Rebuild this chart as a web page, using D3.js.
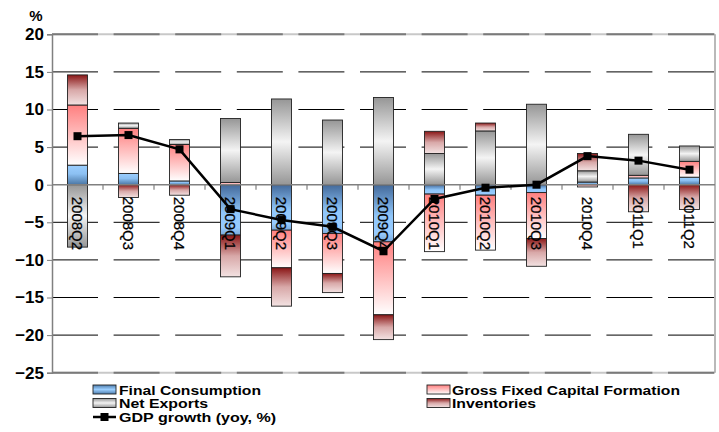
<!DOCTYPE html>
<html><head><meta charset="utf-8">
<script src="https://cdn.jsdelivr.net/npm/d3@7"></script>
<style>
html,body{margin:0;padding:0;background:#fff;}
svg{display:block;}
</style></head>
<body>
<svg id="chart" width="719" height="432"></svg>
<script>
// ---- data ----
const categories = ['2008Q2','2008Q3','2008Q4','2009Q1','2009Q2','2009Q3','2009Q4','2010Q1','2010Q2','2010Q3','2010Q4','2011Q1','2011Q2'];
const finalConsumption = [2.6, 1.5, 0.5, -6.7, -6.05, -6.5, -7.6, -1.25, -1.4, -1.05, 0.35, 0.9, 1.0];
const grossFixedCapital = [8.0, 6.0, 4.85, 0.3, -5.0, -5.3, -9.7, -7.65, -7.3, -6.1, -0.3, 0.35, 2.1];
const netExports = [-8.3, 0.7, 0.65, 8.5, 11.4, 8.6, 11.6, 4.15, 7.15, 10.7, 1.5, 5.45, 2.05];
const inventories = [4.0, -1.7, -1.4, -5.55, -5.1, -2.55, -3.3, 2.95, 1.05, -3.7, 2.3, -3.6, -3.3];
const gdpGrowth = [6.45, 6.6, 4.7, -3.25, -4.7, -5.6, -8.85, -1.9, -0.4, 0.0, 3.8, 3.2, 2.0];
const yTicks = [20, 15, 10, 5, 0, -5, -10, -15, -20, -25];
const seriesNames = ['Final Consumption', 'Gross Fixed Capital Formation', 'Net Exports', 'Inventories'];
const lineName = 'GDP growth (yoy, %)';

const keys = ['fc', 'gfcf', 'nx', 'inv'];
const table = categories.map((c, i) => ({
  cat: c, fc: finalConsumption[i], gfcf: grossFixedCapital[i], nx: netExports[i], inv: inventories[i], gdp: gdpGrowth[i]
}));

const svg = d3.select('#chart');
const L = 52, R = 715, T = 34.3, B = 372.7;

const x = d3.scaleBand().domain(categories).range([L, R]).paddingInner(0.608).paddingOuter(0.304);
const y = d3.scaleLinear().domain([-25, 20]).range([B, T]);

// ---- gradients ----
const defs = svg.append('defs');
function grad(id, stops) {
  const g = defs.append('linearGradient').attr('id', id).attr('x1', 0).attr('y1', 0).attr('x2', 0).attr('y2', 1);
  stops.forEach(s => g.append('stop').attr('offset', s[0]).attr('stop-color', s[1]));
}
grad('g-fc-pos', [[0, '#9ccfff'], [0.45, '#8cc0f2'], [1, '#4a76a4']]);
grad('g-fc-neg', [[0, '#43699a'], [0.55, '#8fc6fa'], [0.85, '#97cbff'], [1, '#7aa9da']]);
grad('g-gfcf', [[0, '#ff7f7f'], [1, '#ffffff']]);
grad('g-nx', [[0, '#969696'], [0.5, '#f4f4f4'], [1, '#969696']]);
grad('g-inv', [[0, '#8a1616'], [0.5, '#d8a8a8'], [1, '#f3e2e2']]);
grad('g-fc-leg', [[0, '#4f7eae'], [0.5, '#9ccfff'], [1, '#4f7eae']]);

function fillFor(key, v) {
  if (key === 'fc') return v >= 0 ? 'url(#g-fc-pos)' : 'url(#g-fc-neg)';
  return 'url(#g-' + key + ')';
}

// ---- gridlines ----
const dash = '46,15.6';
svg.append('g').selectAll('line')
  .data(yTicks.filter(t => t !== 0 && t !== 20 && t !== -25))
  .join('line')
  .attr('x1', L).attr('x2', R)
  .attr('y1', d => y(d)).attr('y2', d => y(d))
  .attr('stroke', '#000').attr('stroke-width', 1)
  .attr('stroke-dasharray', dash);

// top & bottom borders
[20, -25].forEach(v => {
  svg.append('line').attr('x1', L).attr('x2', R).attr('y1', y(v)).attr('y2', y(v))
    .attr('stroke', '#c8c8c8').attr('stroke-width', 2);
  svg.append('line').attr('x1', L).attr('x2', R).attr('y1', y(v)).attr('y2', y(v))
    .attr('stroke', '#7a7a7a').attr('stroke-width', 2).attr('stroke-dasharray', dash);
});
// right border
svg.append('line').attr('x1', R).attr('x2', R).attr('y1', T).attr('y2', B)
  .attr('stroke', '#8a8a8a').attr('stroke-width', 1.2);

// ---- stacked bars ----
const stack = d3.stack().keys(keys).offset(d3.stackOffsetDiverging);
const layers = stack(table);
const barG = svg.append('g');
layers.forEach(layer => {
  const key = layer.key;
  barG.append('g').selectAll('rect')
    .data(layer.filter(d => Math.abs(d[1] - d[0]) > 1e-9))
    .join('rect')
    .attr('x', d => x(d.data.cat))
    .attr('width', x.bandwidth())
    .attr('y', d => y(Math.max(d[0], d[1])))
    .attr('height', d => Math.abs(y(d[0]) - y(d[1])))
    .attr('fill', d => fillFor(key, d.data[key]))
    .attr('stroke', '#222').attr('stroke-width', 0.9);
});

// ---- zero line (category axis) ----
svg.append('line').attr('x1', L).attr('x2', R).attr('y1', y(0)).attr('y2', y(0))
  .attr('stroke', '#808080').attr('stroke-width', 1.5);
const step = x.step();
svg.append('g').selectAll('line')
  .data(d3.range(1, categories.length))
  .join('line')
  .attr('x1', k => L + k * step).attr('x2', k => L + k * step)
  .attr('y1', y(0)).attr('y2', y(0) + 5)
  .attr('stroke', '#808080').attr('stroke-width', 1.2);

// ---- y axis ----
const yAxis = d3.axisLeft(y).tickValues(yTicks).tickSize(5).tickPadding(3).tickFormat(d3.format('d'));
const yg = svg.append('g').attr('transform', `translate(${L},0)`).call(yAxis);
yg.select('.domain').attr('stroke', '#808080').attr('stroke-width', 1.5);
yg.selectAll('.tick line').attr('stroke', '#808080');
yg.selectAll('.tick text')
  .attr('font-family', 'Liberation Sans, Arial, sans-serif')
  .attr('font-weight', 'bold').attr('font-size', 17).attr('fill', '#000');
svg.append('text').attr('x', 36).attr('y', 21).attr('text-anchor', 'middle')
  .attr('font-family', 'Liberation Sans, Arial, sans-serif').attr('font-weight', 'bold')
  .attr('font-size', 15).text('%');

// ---- category labels (rotated) ----
svg.append('g').selectAll('text')
  .data(categories)
  .join('text')
  .attr('transform', d => `translate(${x(d) + x.bandwidth() / 2},${y(0) + 12}) rotate(90)`)
  .attr('dy', '0.35em')
  .attr('text-anchor', 'start')
  .attr('font-family', 'Liberation Sans, Arial, sans-serif')
  .attr('font-size', 15).attr('fill', '#000')
  .attr('stroke', '#000').attr('stroke-width', 0.25)
  .text(d => d);

// ---- GDP line ----
const line = d3.line().x(d => x(d.cat) + x.bandwidth() / 2).y(d => y(d.gdp));
svg.append('path').datum(table).attr('d', line)
  .attr('fill', 'none').attr('stroke', '#000').attr('stroke-width', 2.5);
svg.append('g').selectAll('rect')
  .data(table).join('rect')
  .attr('x', d => x(d.cat) + x.bandwidth() / 2 - 4)
  .attr('y', d => y(d.gdp) - 4)
  .attr('width', 8).attr('height', 8).attr('fill', '#000');

// ---- legend ----
const legFont = 'Liberation Sans, Arial, sans-serif';
const legSize = 12;
const legendItems = [
  { name: seriesNames[0], fill: 'url(#g-fc-leg)', sx: 93, sy: 385, tx: 119, ty: 394.5, w: 142 },
  { name: seriesNames[2], fill: 'url(#g-nx)', sx: 93, sy: 398.5, tx: 119, ty: 408, w: 89 },
  { name: seriesNames[1], fill: 'url(#g-gfcf)', sx: 427, sy: 385, tx: 452, ty: 394.5, w: 228 },
  { name: seriesNames[3], fill: 'url(#g-inv)', sx: 427, sy: 398.5, tx: 452, ty: 408, w: 84 }
];
const lg = svg.append('g');
legendItems.forEach(it => {
  lg.append('rect').attr('x', it.sx).attr('y', it.sy).attr('width', 23).attr('height', 9)
    .attr('fill', it.fill).attr('stroke', '#222').attr('stroke-width', 0.9);
  lg.append('text').attr('x', it.tx).attr('y', it.ty)
    .attr('font-family', legFont).attr('font-weight', 'bold').attr('font-size', legSize)
    .attr('textLength', it.w).attr('lengthAdjust', 'spacingAndGlyphs')
    .text(it.name);
});
lg.append('line').attr('x1', 93).attr('x2', 116).attr('y1', 417).attr('y2', 417)
  .attr('stroke', '#000').attr('stroke-width', 2.5);
lg.append('rect').attr('x', 100.5).attr('y', 413).attr('width', 8).attr('height', 8).attr('fill', '#000');
lg.append('text').attr('x', 119).attr('y', 421.5)
  .attr('font-family', legFont).attr('font-weight', 'bold').attr('font-size', legSize)
  .attr('textLength', 157).attr('lengthAdjust', 'spacingAndGlyphs')
  .text(lineName);
</script>
</body></html>
